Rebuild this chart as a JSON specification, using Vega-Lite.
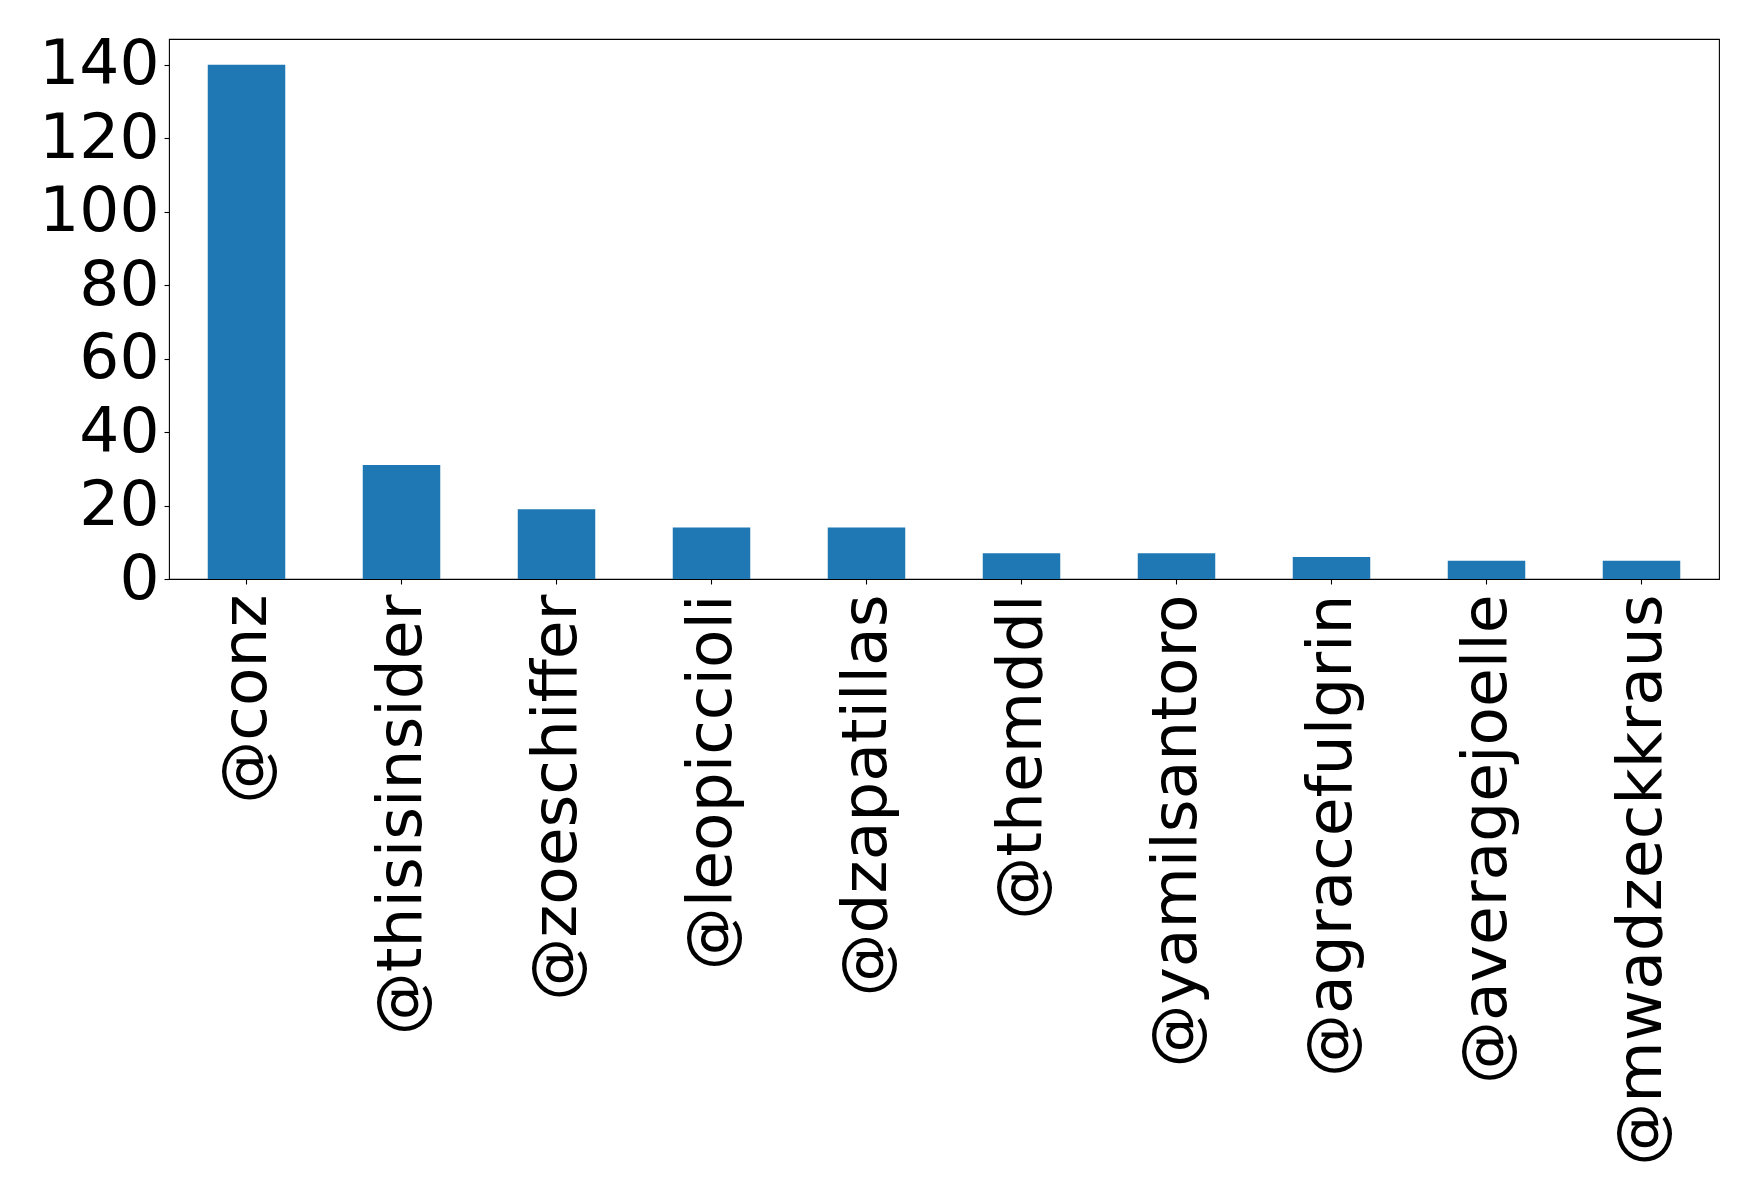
{
  "$schema": "https://vega.github.io/schema/vega-lite/v6.json",
  "autosize": {"type": "none"},
  "width": 1550,
  "height": 540,
  "padding": {"left": 169, "top": 39, "right": 39, "bottom": 615},
  "background": "white",
  "config": {
    "view": {"stroke": "black", "strokeWidth": 1.1},
    "font": "DejaVu Sans",
    "axis": {
      "grid": false,
      "domain": false,
      "tickColor": "black",
      "tickWidth": 1.1,
      "tickSize": 5,
      "labelColor": "black",
      "labelFont": "DejaVu Sans",
      "labelFontSize": 63,
      "title": null
    }
  },
  "data": {
    "values": [
      {"user": "@conz", "count": 140},
      {"user": "@thisisinsider", "count": 31},
      {"user": "@zoeschiffer", "count": 19},
      {"user": "@leopiccioli", "count": 14},
      {"user": "@dzapatillas", "count": 14},
      {"user": "@themddl", "count": 7},
      {"user": "@yamilsantoro", "count": 7},
      {"user": "@agracefulgrin", "count": 6},
      {"user": "@averagejoelle", "count": 5},
      {"user": "@mwadzeckkraus", "count": 5}
    ]
  },
  "mark": {"type": "bar", "color": "#1f77b4"},
  "encoding": {
    "x": {
      "field": "user",
      "type": "nominal",
      "sort": null,
      "scale": {"paddingInner": 0.5, "paddingOuter": 0.25},
      "axis": {"labelAngle": -90, "labelAlign": "right", "labelBaseline": "middle", "labelPadding": 10, "labelOverlap": false, "labelLimit": 0}
    },
    "y": {
      "field": "count",
      "type": "quantitative",
      "scale": {"domain": [0, 147], "nice": false, "zero": true},
      "axis": {"values": [0, 20, 40, 60, 80, 100, 120, 140], "labelPadding": 5, "labelBaseline": "middle"}
    }
  }
}
